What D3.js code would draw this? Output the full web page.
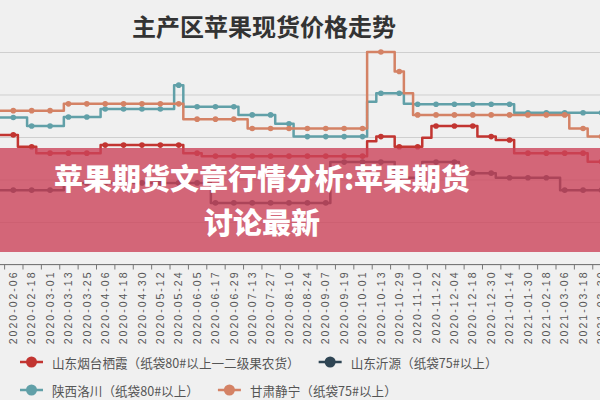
<!DOCTYPE html>
<html><head><meta charset="utf-8">
<script src="https://cdn.jsdelivr.net/npm/d3@7"></script>
<style>html,body{margin:0;padding:0;background:#f0f0f0;}svg{display:block}</style>
</head><body><svg id="c" width="600" height="400"></svg>
<script>
// x-axis category labels (one marker per label)
const dates = ["2020-02-06","2020-02-18","2020-03-01","2020-03-13","2020-03-25","2020-04-06","2020-04-18","2020-04-30","2020-05-12","2020-05-24","2020-06-05","2020-06-17","2020-06-29","2020-07-13","2020-07-27","2020-08-10","2020-08-24","2020-09-07","2020-09-19","2020-10-01","2020-10-13","2020-10-29","2020-11-10","2020-11-22","2020-12-04","2020-12-18","2020-12-30","2021-01-14","2021-01-30","2021-02-18","2021-03-06","2021-03-18","2021-03-30"];
// Series are sampled twice per label interval, starting one interval before the first label
const seriesNames = ["山东烟台栖霞（纸袋80#以上一二级果农货）","山东沂源（纸袋75#以上）","陕西洛川（纸袋80#以上）","甘肃静宁（纸袋75#以上）"];
const qixia = [4.05,4.05,4.05,3.77,3.77,3.62,3.62,3.62,3.62,3.62,3.62,3.62,3.81,3.81,3.81,3.81,3.81,3.81,3.81,3.81,3.81,3.62,3.62,3.55,3.55,3.55,3.55,3.55,3.55,3.55,3.55,3.55,3.55,3.55,3.55,3.55,3.55,3.55,3.55,3.55,3.55,3.90,4.01,4.01,3.77,3.77,3.77,3.98,4.26,4.26,4.26,4.26,4.26,4.01,4.01,3.93,3.93,3.62,3.62,3.62,3.62,3.62,3.62,3.62,3.62,3.42,3.42];
const yiyuan = [2.75,2.75,2.75,2.75,2.75,2.75,2.75,2.75,2.92,2.92,2.92,2.92,2.92,2.92,2.92,2.92,2.92,2.92,2.92,2.92,2.92,2.92,2.92,2.92,2.45,2.45,2.45,2.45,2.45,2.45,2.45,2.45,2.45,2.45,2.45,2.45,2.45,3.41,3.41,3.41,3.41,3.41,3.41,3.41,3.04,3.04,3.04,3.41,3.41,3.41,3.41,3.15,3.15,3.15,3.15,3.04,3.04,3.04,3.04,3.04,3.04,3.04,2.75,2.75,2.75,2.75,2.75];
const luochuan = [4.46,4.46,4.46,4.46,4.26,4.26,4.26,4.26,4.47,4.47,4.47,4.47,4.66,4.66,4.66,4.66,4.66,4.66,4.66,4.66,5.22,4.71,4.71,4.71,4.71,4.71,4.71,4.52,4.52,4.52,4.52,4.31,4.31,4.01,4.01,4.01,4.01,4.01,4.01,4.01,4.01,4.83,5.03,5.03,5.03,4.78,4.77,4.77,4.77,4.77,4.77,4.77,4.77,4.77,4.77,4.77,4.77,4.57,4.57,4.57,4.57,4.57,4.57,4.57,4.57,4.57,4.57];
const jingning = [4.62,4.62,4.62,4.62,4.62,4.62,4.62,4.62,4.78,4.78,4.78,4.78,4.78,4.78,4.78,4.78,4.78,4.78,4.78,4.78,4.78,4.42,4.42,4.42,4.42,4.42,4.42,4.42,4.20,4.20,4.20,4.20,4.20,4.20,4.20,4.20,4.20,4.20,4.20,4.20,4.20,6.00,6.00,6.00,5.54,5.03,4.52,4.52,4.52,4.52,4.52,4.52,4.52,4.52,4.52,4.52,4.52,4.52,4.52,4.52,4.52,4.52,4.52,4.20,4.20,4.01,4.01];
const yTicks = [1,2,3,4,5,6];
const colors = ["#c23531","#2f4554","#61a0a8","#d48265"];
const titleText = "主产区苹果现货价格走势";
const bannerLines = ["苹果期货文章行情分析:苹果期货","讨论最新"];

const svg = d3.select("#c");
const W = 600, H = 400;
const x = d3.scaleLinear().domain([0, dates.length - 1]).range([13.3, 13.3 + 18.38 * (dates.length - 1)]);
const y = d3.scaleLinear().domain([1, 6]).range([264.5, 52]);
const samplesPerLabel = 2, firstSample = -1;
const tOf = k => firstSample + k / samplesPerLabel;

svg.append("rect").attr("width", W).attr("height", H).attr("fill", "#f0f0f0");

// title
svg.append("text").attr("x", 264).attr("y", 25).attr("text-anchor", "middle")
  .attr("dominant-baseline", "central")
  .style("font-family", "'Noto Sans CJK SC', sans-serif").style("font-weight", "700")
  .style("font-size", "24px").attr("fill", "#333").text(titleText);

// gridlines
const grid = svg.append("g")
  .call(d3.axisLeft(y).tickValues(yTicks).tickSize(-W).tickFormat(""));
grid.select(".domain").remove();
grid.selectAll(".tick line").attr("stroke", "#cfcfcf");

// x axis
const ax = svg.append("g").attr("transform", `translate(0,${y(1)})`)
  .call(d3.axisBottom(x).tickValues(d3.range(dates.length).map(i => i - 0.5)).tickSize(5).tickFormat(""));
ax.select(".domain").attr("d", `M0,0H${W}`).attr("stroke", "#777");
ax.selectAll(".tick line").attr("stroke", "#777");
svg.append("g").selectAll("text").data(dates).join("text")
  .attr("transform", (d, i) => `translate(${x(i)},${y(1) + 6}) rotate(-90)`)
  .attr("text-anchor", "end").attr("dy", "0.35em")
  .style("font-family", "'Liberation Sans', Arial, sans-serif").style("font-size", "10.5px")
  .style("letter-spacing", "2px").attr("fill", "#555").text(d => d);

// series
const all = [qixia, yiyuan, luochuan, jingning];
const line = d3.line().x((d, k) => x(tOf(k))).y(d => y(d)).curve(d3.curveStep);
all.forEach((vals, si) => {
  const g = svg.append("g");
  g.append("path").datum(vals).attr("d", line).attr("fill", "none")
    .attr("stroke", colors[si]).attr("stroke-width", 2.5).attr("stroke-linejoin", "round");
  const pts = vals.map((v, k) => ({ t: tOf(k), v })).filter(p => Number.isInteger(p.t) && p.t >= 0);
  g.selectAll("circle").data(pts).join("circle")
    .attr("cx", p => x(p.t)).attr("cy", p => y(p.v)).attr("r", 2.8).attr("fill", colors[si]);
});

// banner overlay
svg.append("rect").attr("x", 0).attr("y", 148).attr("width", W).attr("height", 104)
  .attr("fill", "rgb(204,68,90)").attr("fill-opacity", 0.8);
bannerLines.forEach((t, i) => {
  svg.append("text").attr("x", 262).attr("y", 177 + i * 44).attr("text-anchor", "middle")
    .attr("dominant-baseline", "central")
    .style("font-family", "'Noto Sans CJK SC', sans-serif").style("font-weight", "900")
    .style("font-size", "29px").attr("fill", "#fff").text(t);
});

// legend
const rows = [[0, 1], [2, 3]];
rows.forEach((row, ri) => {
  let cx = 20;
  const cy = 362 + ri * 28;
  row.forEach(si => {
    const g = svg.append("g");
    g.append("line").attr("x1", cx).attr("x2", cx + 23).attr("y1", cy).attr("y2", cy)
      .attr("stroke", colors[si]).attr("stroke-width", 2.5);
    g.append("circle").attr("cx", cx + 11.5).attr("cy", cy).attr("r", 5.5).attr("fill", colors[si]);
    const tx = g.append("text").attr("x", cx + 32).attr("y", cy).attr("dominant-baseline", "central")
      .style("font-family", "'Noto Sans CJK SC', sans-serif").style("font-size", "12.6px")
      .attr("fill", "#555").text(seriesNames[si]);
    cx = cx + 32 + tx.node().getComputedTextLength() + 19;
  });
});
</script>
</body></html>
